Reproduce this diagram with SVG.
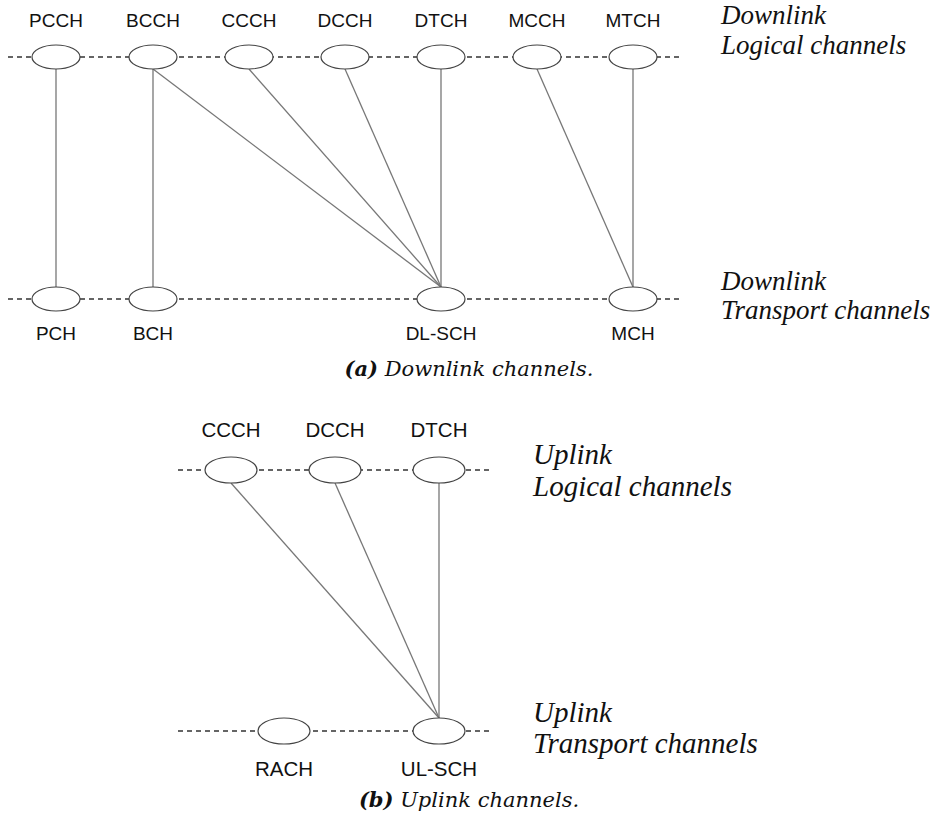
<svg xmlns="http://www.w3.org/2000/svg" width="938" height="816" viewBox="0 0 938 816">
  <style>
    .bus { stroke: #333; stroke-width: 1.3; stroke-dasharray: 5 4; fill: none; }
    .ch { fill: #fff; stroke: #444; stroke-width: 1.2; }
    .link { stroke: #777; stroke-width: 1.3; fill: none; }
    .lbl { font-family: "Liberation Sans", Arial, sans-serif; font-size: 19px; fill: #111; text-anchor: middle; }
    .lbl-b { font-size: 20.5px; }
    .side { font-family: "Liberation Serif", "Times New Roman", serif; font-style: italic; font-size: 27px; fill: #111; }
    .side-b { font-size: 29px; }
    .cap { font-family: "DejaVu Serif", serif; font-style: italic; font-size: 21px; fill: #111; text-anchor: middle; }
  </style>
  <rect width="938" height="816" fill="#fff"/>

  <!-- (a) downlink -->
  <g id="downlink-buses">
    <line class="bus" x1="8" y1="57" x2="680" y2="57"/>
    <line class="bus" x1="8" y1="299" x2="680" y2="299"/>
  </g>
  <g id="downlink-links">
    <line class="link" x1="56" y1="69" x2="56" y2="287"/>
    <line class="link" x1="153" y1="69" x2="153" y2="287"/>
    <line class="link" x1="153" y1="69" x2="441" y2="287"/>
    <line class="link" x1="249" y1="69" x2="441" y2="287"/>
    <line class="link" x1="345" y1="69" x2="441" y2="287"/>
    <line class="link" x1="441" y1="69" x2="441" y2="287"/>
    <line class="link" x1="537" y1="69" x2="633" y2="287"/>
    <line class="link" x1="633" y1="69" x2="633" y2="287"/>
  </g>
  <g id="PCCH"><ellipse class="ch" cx="56" cy="57" rx="24" ry="12"/><text class="lbl" x="56" y="27">PCCH</text></g>
  <g id="BCCH"><ellipse class="ch" cx="153" cy="57" rx="24" ry="12"/><text class="lbl" x="153" y="27">BCCH</text></g>
  <g id="CCCH-dl"><ellipse class="ch" cx="249" cy="57" rx="24" ry="12"/><text class="lbl" x="249" y="27">CCCH</text></g>
  <g id="DCCH-dl"><ellipse class="ch" cx="345" cy="57" rx="24" ry="12"/><text class="lbl" x="345" y="27">DCCH</text></g>
  <g id="DTCH-dl"><ellipse class="ch" cx="441" cy="57" rx="24" ry="12"/><text class="lbl" x="441" y="27">DTCH</text></g>
  <g id="MCCH"><ellipse class="ch" cx="537" cy="57" rx="24" ry="12"/><text class="lbl" x="537" y="27">MCCH</text></g>
  <g id="MTCH"><ellipse class="ch" cx="633" cy="57" rx="24" ry="12"/><text class="lbl" x="633" y="27">MTCH</text></g>

  <g id="PCH"><ellipse class="ch" cx="56" cy="299" rx="24" ry="12"/><text class="lbl" x="56" y="340">PCH</text></g>
  <g id="BCH"><ellipse class="ch" cx="153" cy="299" rx="24" ry="12"/><text class="lbl" x="153" y="340">BCH</text></g>
  <g id="DL-SCH"><ellipse class="ch" cx="441" cy="299" rx="24" ry="12"/><text class="lbl" x="441" y="340">DL-SCH</text></g>
  <g id="MCH"><ellipse class="ch" cx="633" cy="299" rx="24" ry="12"/><text class="lbl" x="633" y="340">MCH</text></g>

  <g id="downlink-titles">
    <text class="side" x="721" y="24">Downlink</text>
    <text class="side" x="721" y="54">Logical channels</text>
    <text class="side" x="721" y="290">Downlink</text>
    <text class="side" x="721" y="319">Transport channels</text>
  </g>
  <text class="cap" x="469" y="376"><tspan font-weight="bold">(a)</tspan> Downlink channels.</text>

  <!-- (b) uplink -->
  <g id="uplink-buses">
    <line class="bus" x1="178" y1="470" x2="492" y2="470"/>
    <line class="bus" x1="178" y1="731" x2="492" y2="731"/>
  </g>
  <g id="uplink-links">
    <line class="link" x1="231" y1="483" x2="439" y2="718"/>
    <line class="link" x1="335" y1="483" x2="439" y2="718"/>
    <line class="link" x1="439" y1="483" x2="439" y2="718"/>
  </g>
  <g id="CCCH-ul"><ellipse class="ch" cx="231" cy="470" rx="26" ry="13"/><text class="lbl lbl-b" x="231" y="437">CCCH</text></g>
  <g id="DCCH-ul"><ellipse class="ch" cx="335" cy="470" rx="26" ry="13"/><text class="lbl lbl-b" x="335" y="437">DCCH</text></g>
  <g id="DTCH-ul"><ellipse class="ch" cx="439" cy="470" rx="26" ry="13"/><text class="lbl lbl-b" x="439" y="437">DTCH</text></g>
  <g id="RACH"><ellipse class="ch" cx="284" cy="731" rx="26" ry="13"/><text class="lbl lbl-b" x="284" y="776">RACH</text></g>
  <g id="UL-SCH"><ellipse class="ch" cx="439" cy="731" rx="26" ry="13"/><text class="lbl lbl-b" x="439" y="776">UL-SCH</text></g>

  <g id="uplink-titles">
    <text class="side side-b" x="533" y="464">Uplink</text>
    <text class="side side-b" x="533" y="496">Logical channels</text>
    <text class="side side-b" x="533" y="722">Uplink</text>
    <text class="side side-b" x="533" y="753">Transport channels</text>
  </g>
  <text class="cap" x="469" y="807"><tspan font-weight="bold">(b)</tspan> Uplink channels.</text>
</svg>
